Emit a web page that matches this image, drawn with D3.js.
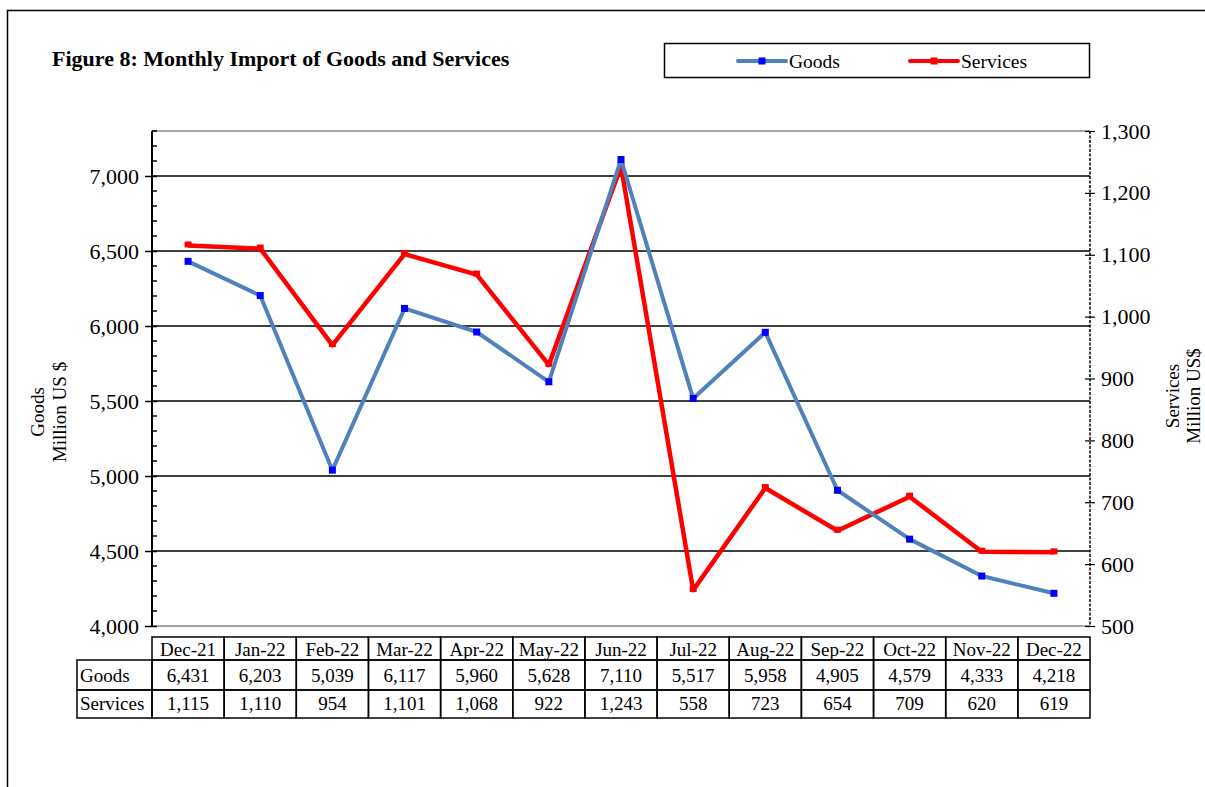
<!DOCTYPE html>
<html><head><meta charset="utf-8">
<script src="https://cdn.jsdelivr.net/npm/d3@7"></script>
<style>body{margin:0;background:#fff}svg{display:block}text{font-family:"Liberation Serif","Times New Roman",serif;fill:#000}</style>
</head><body>
<svg id="c" width="1205" height="787"></svg>
<script>
const categories = ["Dec-21","Jan-22","Feb-22","Mar-22","Apr-22","May-22","Jun-22","Jul-22","Aug-22","Sep-22","Oct-22","Nov-22","Dec-22"];
const goods = [6431,6203,5039,6117,5960,5628,7110,5517,5958,4905,4579,4333,4218];
const services = [1115,1110,954,1101,1068,922,1243,558,723,654,709,620,619];
const leftTicks = [4000,4500,5000,5500,6000,6500,7000];
const rightTicks = [500,600,700,800,900,1000,1100,1200,1300];

const svg = d3.select("#c");
const L = 152, R = 1090, T = 131, B = 626;
const fmt = d3.format(",");

svg.append("rect").attr("x",7.5).attr("y",10.5).attr("width",1400).attr("height",1000)
  .attr("fill","none").attr("stroke","#000").attr("stroke-width",1.5);

svg.append("text").attr("x",52).attr("y",66).attr("font-size",22).attr("font-weight","bold")
  .text("Figure 8: Monthly Import of Goods and Services");

const x = d3.scaleBand().domain(categories).range([L,R]);
const yL = d3.scaleLinear().domain([4000,7300]).range([B,T]);
const yR = d3.scaleLinear().domain([500,1300]).range([B,T]);

// top & bottom plot borders
svg.append("line").attr("x1",L).attr("x2",R).attr("y1",T).attr("y2",T).attr("stroke","#888").attr("stroke-width",1.5);
svg.append("line").attr("x1",L).attr("x2",R).attr("y1",B).attr("y2",B).attr("stroke","#888").attr("stroke-width",1.5);
// gridlines
svg.append("g").selectAll("line").data(leftTicks.filter(d=>d>4000)).join("line")
  .attr("x1",L).attr("x2",R).attr("y1",d=>yL(d)).attr("y2",d=>yL(d))
  .attr("stroke","#000").attr("stroke-width",1.5);

// left axis
const gl = svg.append("g").attr("transform",`translate(${L},0)`);
gl.call(d3.axisLeft(yL).tickValues(leftTicks).tickFormat(fmt).tickSize(7).tickPadding(6))
  .call(g=>g.select(".domain").attr("stroke-width",2))
  .call(g=>g.selectAll(".tick line").attr("stroke-width",1.5).attr("x2",-7).attr("x1",5))
  .call(g=>g.selectAll("text").attr("font-size",22).attr("font-family","Liberation Serif"));
gl.selectAll(".domain").attr("d",`M0,${T}V${B}`);
gl.append("g").selectAll("line").data(d3.range(4100,7301,100).filter(d=>d%500!==0)).join("line")
  .attr("x1",0).attr("x2",5).attr("y1",d=>yL(d)).attr("y2",d=>yL(d)).attr("stroke","#000").attr("stroke-width",1.5);

// right axis
const gr = svg.append("g").attr("transform",`translate(${R},0)`);
gr.call(d3.axisRight(yR).tickValues(rightTicks).tickFormat(fmt).tickSize(5).tickPadding(6))
  .call(g=>g.select(".domain").attr("stroke-dasharray","3,1.5").attr("stroke-width",1.5))
  .call(g=>g.selectAll(".tick line").attr("x1",-5).attr("stroke-width",1.2))
  .call(g=>g.selectAll("text").attr("font-size",22).attr("font-family","Liberation Serif"));
gr.selectAll(".domain").attr("d",`M0,${T}V${B}`);

// axis titles
const lt = svg.append("text").attr("transform","translate(48,412) rotate(-90)").attr("text-anchor","middle").attr("font-size",19);
lt.append("tspan").attr("x",0).attr("dy",-4).text("Goods");
lt.append("tspan").attr("x",0).attr("dy",22).text("Million US $");
const rt = svg.append("text").attr("transform","translate(1183,396) rotate(-90)").attr("text-anchor","middle").attr("font-size",19);
rt.append("tspan").attr("x",0).attr("dy",-4).text("Services");
rt.append("tspan").attr("x",0).attr("dy",21).text("Million US$");

const cx = d => x(d) + x.bandwidth()/2;
// services line
svg.append("path").datum(services).attr("fill","none").attr("stroke","#FF0000").attr("stroke-width",4.5)
  .attr("stroke-linejoin","round")
  .attr("d",d3.line().x((d,i)=>cx(categories[i])).y(d=>yR(d)));
svg.append("g").selectAll("rect").data(services).join("rect")
  .attr("x",(d,i)=>cx(categories[i])-3.5).attr("y",d=>yR(d)-4).attr("width",7).attr("height",6).attr("fill","#FF0000");
// goods line
svg.append("path").datum(goods).attr("fill","none").attr("stroke","#4F81BD").attr("stroke-width",4)
  .attr("stroke-linejoin","round")
  .attr("d",d3.line().x((d,i)=>cx(categories[i])).y(d=>yL(d)));
svg.append("g").selectAll("rect").data(goods).join("rect")
  .attr("x",(d,i)=>cx(categories[i])-3.5).attr("y",d=>yL(d)-3.5).attr("width",7).attr("height",7).attr("fill","#0000FF");

// legend
svg.append("rect").attr("x",664.5).attr("y",43.5).attr("width",425).attr("height",34)
  .attr("fill","#fff").attr("stroke","#000").attr("stroke-width",1.5);
const leg = [{n:"Goods",c:"#4F81BD",m:"#0000FF",x:738},{n:"Services",c:"#FF0000",m:"#FF0000",x:910}];
leg.forEach(l=>{
  svg.append("line").attr("x1",l.x).attr("x2",l.x+48).attr("y1",61).attr("y2",61).attr("stroke",l.c).attr("stroke-width",4).attr("stroke-linecap","round");
  svg.append("rect").attr("x",l.x+20.5).attr("y",57.5).attr("width",7).attr("height",7).attr("fill",l.m);
  svg.append("text").attr("x",l.x+51).attr("y",67.5).attr("font-size",19.5).text(l.n);
});

// data table
const rowsY = [637,660,690,718];
const tbl = svg.append("g");
const tx0 = 77;
tbl.selectAll("rect.h").data(categories).join("rect")
  .attr("x",d=>x(d)).attr("y",rowsY[0]).attr("width",x.bandwidth()).attr("height",rowsY[1]-rowsY[0])
  .attr("fill","none").attr("stroke","#000").attr("stroke-width",1.5);
tbl.selectAll("text.h").data(categories).join("text")
  .attr("x",d=>cx(d)).attr("y",rowsY[1]-4).attr("text-anchor","middle").attr("font-size",19).text(d=>d);
const rows = [{n:"Goods",v:goods},{n:"Services",v:services}];
rows.forEach((r,ri)=>{
  const y0 = rowsY[ri+1], y1 = rowsY[ri+2];
  tbl.append("rect").attr("x",tx0).attr("y",y0).attr("width",L-tx0).attr("height",y1-y0)
    .attr("fill","none").attr("stroke","#000").attr("stroke-width",1.5);
  tbl.append("text").attr("x",tx0+3).attr("y",y1-8).attr("font-size",19).text(r.n);
  tbl.append("g").selectAll("rect").data(categories).join("rect")
    .attr("x",d=>x(d)).attr("y",y0).attr("width",x.bandwidth()).attr("height",y1-y0)
    .attr("fill","none").attr("stroke","#000").attr("stroke-width",1.5);
  tbl.append("g").selectAll("text").data(r.v).join("text")
    .attr("x",(d,i)=>cx(categories[i])).attr("y",y1-8).attr("text-anchor","middle").attr("font-size",19).text(d=>fmt(d));
});
</script>
</body></html>
